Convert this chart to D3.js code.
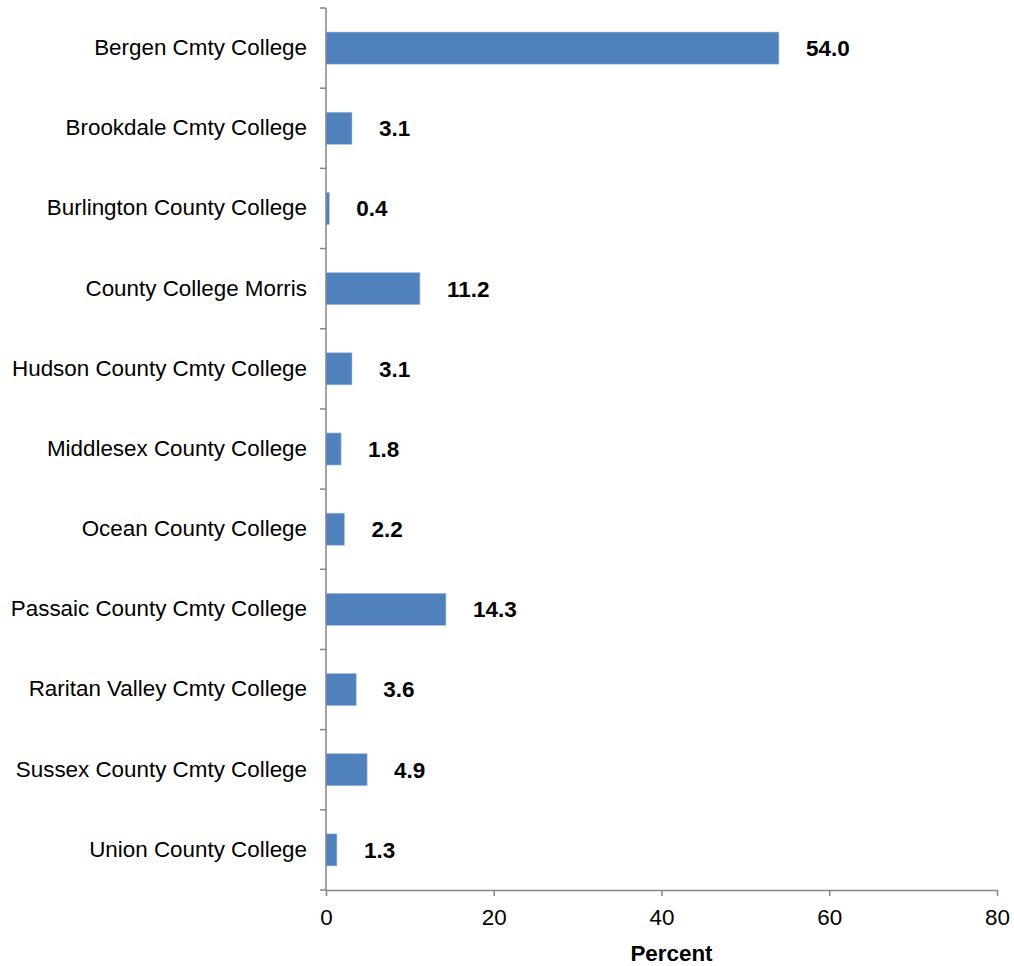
<!DOCTYPE html>
<html><head><meta charset="utf-8">
<script src="https://cdn.jsdelivr.net/npm/d3@7"></script>
<style>body{margin:0;background:#fff}svg{display:block}text{font-family:"Liberation Sans",Arial,sans-serif}</style>
</head><body>
<script>
const categories = ["Bergen Cmty College","Brookdale Cmty College","Burlington County College","County College Morris","Hudson County Cmty College","Middlesex County College","Ocean County College","Passaic County Cmty College","Raritan Valley Cmty College","Sussex County Cmty College","Union County College"];
const values = [54.0,3.1,0.4,11.2,3.1,1.8,2.2,14.3,3.6,4.9,1.3];
const xTicks = [0,20,40,60,80];
const xTitle = "Percent";

const W=1014,H=966;
const m={left:326,right:17,top:8,bottom:76};
const svg=d3.select("body").append("svg").attr("width",W).attr("height",H);
const x=d3.scaleLinear().domain([0,80]).range([m.left,W-m.right]);
const y=d3.scaleBand().domain(categories).range([m.top,H-m.bottom]).paddingInner(0.6).paddingOuter(0.3);
const axisColor="#868686";

svg.append("g").selectAll("rect").data(values).join("rect")
  .attr("x",x(0)).attr("y",(d,i)=>y(categories[i]))
  .attr("width",d=>x(d)-x(0)).attr("height",y.bandwidth())
  .attr("fill","#4F81BD").attr("stroke","#A7BFDE").attr("stroke-width",0.6);

svg.append("g").selectAll("text").data(values).join("text")
  .attr("x",d=>x(d)+27).attr("y",(d,i)=>y(categories[i])+y.bandwidth()/2+2)
  .attr("dominant-baseline","middle")
  .attr("font-size",22.5).attr("font-weight","bold").attr("fill","#000")
  .text(d=>d.toFixed(1));

// y axis
const step=(H-m.bottom-m.top)/categories.length;
const gy=svg.append("g");
gy.append("line").attr("x1",x(0)).attr("x2",x(0)).attr("y1",m.top).attr("y2",H-m.bottom).attr("stroke",axisColor).attr("stroke-width",1.5);
gy.selectAll("line.t").data(d3.range(categories.length+1)).join("line").attr("class","t")
  .attr("x1",x(0)-6).attr("x2",x(0)).attr("y1",i=>m.top+i*step).attr("y2",i=>m.top+i*step)
  .attr("stroke",axisColor).attr("stroke-width",1.5);
gy.selectAll("text").data(categories).join("text")
  .attr("x",x(0)-19).attr("y",d=>y(d)+y.bandwidth()/2+1)
  .attr("dominant-baseline","middle").attr("text-anchor","end")
  .attr("font-size",22.4).attr("fill","#000").text(d=>d);

// x axis
const gx=svg.append("g").attr("transform",`translate(0,${H-m.bottom})`)
  .call(d3.axisBottom(x).tickValues(xTicks).tickSize(6).tickSizeOuter(0).tickPadding(13).tickFormat(d3.format("d")));
gx.select(".domain").attr("stroke",axisColor).attr("stroke-width",1.5);
gx.selectAll(".tick line").attr("stroke",axisColor).attr("stroke-width",1.5);
gx.selectAll(".tick text").attr("font-size",22.4).attr("fill","#000").attr("font-family","Liberation Sans, Arial, sans-serif");

svg.append("text").attr("x",(x(0)+x(80))/2+10).attr("y",961).attr("text-anchor","middle")
  .attr("font-size",22.4).attr("font-weight","bold").text(xTitle);
</script>
</body></html>
